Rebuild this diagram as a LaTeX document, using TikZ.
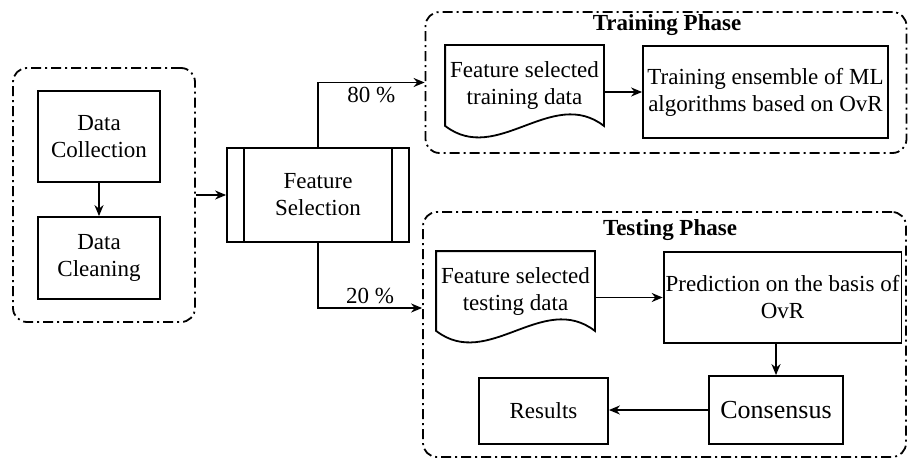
\documentclass[tikz,border=0pt]{standalone}
\usepackage{fontspec}
\setmainfont{Liberation Serif}
\usetikzlibrary{arrows.meta}

\begin{document}
\begin{tikzpicture}[x=1pt,y=-1pt,line width=1.8pt,
  every node/.style={font=\fontsize{23}{27}\selectfont,align=center},
  box/.style={draw,rectangle,inner sep=2pt},
  grp/.style={draw,rectangle,rounded corners=14pt,dash pattern=on 10pt off 4pt on 2pt off 4pt},
  doc/.style={rectangle,inner sep=2pt},
  arr/.style={-{Stealth[length=11pt,width=9pt]}}]
\useasboundingbox (0,0) rectangle (909,460);
% groups
\node[grp,minimum width=182pt,minimum height=254pt] (prep) at (104,195) {};
\node[grp,minimum width=481pt,minimum height=141pt] (train) at (666,82.5) {};
\node[grp,minimum width=483pt,minimum height=245pt] (test) at (664.5,334.5) {};
\node[font=\fontsize{23}{27}\selectfont\bfseries] (trtitle) at (667,25) {Training Phase};
\node[font=\fontsize{23}{27}\selectfont\bfseries] (tetitle) at (670,230) {Testing Phase};
% preparation
\node[box,minimum width=122pt,minimum height=91pt] (coll) at (99,136.5) {Data\\Collection};
\node[box,minimum width=122pt,minimum height=82pt] (clean) at (99,258) {Data\\Cleaning};
\draw[arr] (coll) -- (clean);
% feature selection
\node[box,minimum width=182pt,minimum height=94pt] (fsel) at (318,195) {Feature\\Selection};
\draw ([xshift=18pt]fsel.north west) -- ([xshift=18pt]fsel.south west);
\draw ([xshift=-18pt]fsel.north east) -- ([xshift=-18pt]fsel.south east);
\draw[arr] (prep.east) -- (fsel.west);
\draw[arr] (fsel.north) |- (train.west) node[pos=0.75,below] {80 \%};
\draw[arr] (fsel.south) |- ([yshift=26.5pt]test.west) node[pos=0.75,above] {20 \%};
% training phase
\node[doc,minimum width=157pt,minimum height=79pt] (trdata) at (524.5,85.5) {Feature selected\\training data};
\draw (trdata.south west) -- (trdata.north west) -- (trdata.north east) -- (trdata.south east)
  .. controls ([xshift=-52pt,yshift=40pt]trdata.south east) and ([xshift=52pt,yshift=-40pt]trdata.south west) .. (trdata.south west) -- cycle;
\node[box,minimum width=245pt,minimum height=92pt] (ens) at (765.5,92) {Training ensemble of ML\\algorithms based on OvR};
\draw[arr] (trdata.east |- ens.west) -- (ens.west);
% testing phase
\node[doc,minimum width=157pt,minimum height=78pt] (tedata) at (515.5,291) {Feature selected\\testing data};
\draw (tedata.south west) -- (tedata.north west) -- (tedata.north east) -- (tedata.south east)
  .. controls ([xshift=-52pt,yshift=40pt]tedata.south east) and ([xshift=52pt,yshift=-40pt]tedata.south west) .. (tedata.south west) -- cycle;
\node[box,minimum width=237pt,minimum height=91pt] (pred) at (782.5,297.5) {Prediction on the basis of\\OvR};
\node[box,minimum width=134pt,minimum height=68pt,font=\fontsize{26}{30}\selectfont] (cons) at (776,410) {Consensus};
\node[box,minimum width=129pt,minimum height=66pt] (res) at (543.5,411) {Results};
\draw[arr] (tedata.east |- pred.west) -- (pred.west);
\draw[arr] (pred.south -| cons.north) -- (cons.north);
\draw[arr] (cons.west) -- (cons.west -| res.east);
\end{tikzpicture}
\end{document}
